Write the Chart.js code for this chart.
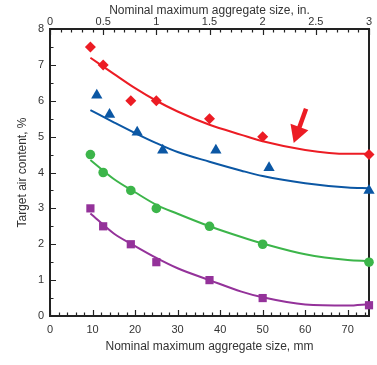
<!DOCTYPE html>
<html>
<head>
<meta charset="utf-8">
<script src="https://cdn.jsdelivr.net/npm/chart.js@4/dist/chart.umd.min.js"></script>
<style>
  html, body { margin: 0; padding: 0; background: #fff; }
  #wrap { width: 377px; height: 365px; position: relative; }
</style>
</head>
<body>
<div id="wrap"><canvas id="c" width="377" height="365"></canvas></div>
<script>
// aggregate sizes, mm
const sizesMm = [9.5, 12.5, 19, 25, 37.5, 50, 75]
const blueSizesMm = [11, 14, 20.5, 26.5, 39, 51.5, 75]

// measured target air content, %
const redPts = [7.5, 7.0, 6.0, 6.0, 5.5, 5.0, 4.5]
const bluePts = [6.15, 5.62, 5.12, 4.62, 4.62, 4.13, 3.5]
const greenPts = [4.5, 4.0, 3.5, 3.0, 2.5, 2.0, 1.5]
const purplePts = [3.0, 2.5, 2.0, 1.5, 1.0, 0.5, 0.3]

// fitted curves
const fitX = [9.5, 15, 20, 25, 30, 37.5, 45, 50, 60, 70, 75]
const redFit = [7.2, 6.75, 6.35, 6.0, 5.7, 5.33, 5.05, 4.87, 4.63, 4.52, 4.52]
const blueFit = [5.74, 5.4, 5.1, 4.82, 4.57, 4.3, 4.05, 3.9, 3.7, 3.58, 3.56]
const greenFit = [4.35, 3.82, 3.45, 3.1, 2.85, 2.5, 2.2, 2.02, 1.72, 1.56, 1.53]
const purpleFit = [2.86, 2.3, 1.95, 1.62, 1.33, 1.0, 0.68, 0.52, 0.32, 0.29, 0.33]

// tick labels
const mmTicks = [0, 10, 20, 30, 40, 50, 60, 70]
const inTicks = [0, 0.5, 1, 1.5, 2, 2.5, 3]
const yTicks = [0, 1, 2, 3, 4, 5, 6, 7, 8]

// arrow annotation (tail, tip) in data units
const arrowTail = [60.2, 5.78]
const arrowTip = [57.3, 4.82]

const RED = '#ec1c24'
const BLUE = '#0b57a4'
const GREEN = '#3cb54a'
const PURPLE = '#94329a'
const FONT = "'Liberation Sans', Arial, sans-serif"

function xy(xs, ys) {
  return xs.map((x, i) => ({ x: x, y: ys[i] }))
}

function markers(xs, ys, color, style, r) {
  return {
    data: xy(xs, ys),
    showLine: false,
    pointStyle: style,
    pointRadius: r,
    pointHoverRadius: r,
    pointBackgroundColor: color,
    pointBorderColor: color,
    pointBorderWidth: 0,
    clip: false
  }
}

function curve(ys, color) {
  return {
    data: xy(fitX, ys),
    showLine: true,
    borderColor: color,
    borderWidth: 2,
    pointRadius: 0,
    cubicInterpolationMode: 'monotone',
    fill: false
  }
}

// frame, inward tick marks and arrow
const framePlugin = {
  id: 'frame',
  beforeDatasetsDraw(chart) {
    const ctx = chart.ctx
    const a = chart.chartArea
    const sx = chart.scales.x
    const sx2 = chart.scales.x2
    const sy = chart.scales.y
    ctx.save()
    ctx.strokeStyle = '#222'
    ctx.lineWidth = 1.2
    ctx.beginPath()
    // bottom ticks every 2 mm
    for (let v = 0; v <= 75; v += 2) {
      const px = Math.round(sx.getPixelForValue(v)) + 0.5
      const len = v % 10 === 0 ? 6 : 3.5
      ctx.moveTo(px, a.bottom)
      ctx.lineTo(px, a.bottom - len)
    }
    // top ticks every 0.1 in
    for (let i = 0; i <= 30; i++) {
      const px = Math.round(sx2.getPixelForValue(i / 10)) + 0.5
      const len = i % 5 === 0 ? 6 : 3.5
      ctx.moveTo(px, a.top)
      ctx.lineTo(px, a.top + len)
    }
    // left ticks every 0.5 %
    for (let i = 0; i <= 16; i++) {
      const py = Math.round(sy.getPixelForValue(i / 2)) + 0.5
      const len = i % 2 === 0 ? 6 : 3.5
      ctx.moveTo(a.left, py)
      ctx.lineTo(a.left + len, py)
    }
    ctx.stroke()
    ctx.lineWidth = 2
    ctx.strokeRect(a.left, a.top, a.right - a.left, a.bottom - a.top)
    ctx.restore()
  },
  afterDatasetsDraw(chart) {
    const ctx = chart.ctx
    const sx = chart.scales.x
    const sy = chart.scales.y
    const x0 = sx.getPixelForValue(arrowTail[0])
    const y0 = sy.getPixelForValue(arrowTail[1])
    const x1 = sx.getPixelForValue(arrowTip[0])
    const y1 = sy.getPixelForValue(arrowTip[1])
    const ang = Math.atan2(y1 - y0, x1 - x0)
    const headLen = 17
    const headW = 9.5
    const bx = x1 - Math.cos(ang) * headLen
    const by = y1 - Math.sin(ang) * headLen
    ctx.save()
    ctx.strokeStyle = RED
    ctx.fillStyle = RED
    ctx.lineWidth = 4.5
    ctx.beginPath()
    ctx.moveTo(x0, y0)
    ctx.lineTo(bx + Math.cos(ang) * 2, by + Math.sin(ang) * 2)
    ctx.stroke()
    ctx.beginPath()
    ctx.moveTo(x1, y1)
    ctx.lineTo(bx + Math.sin(ang) * headW, by - Math.cos(ang) * headW)
    ctx.lineTo(bx - Math.sin(ang) * headW, by + Math.cos(ang) * headW)
    ctx.closePath()
    ctx.fill()
    ctx.restore()
  }
}

const tickFont = { family: FONT, size: 11 }
const titleFont = { family: FONT, size: 12 }

new Chart(document.getElementById('c').getContext('2d'), {
  type: 'scatter',
  data: {
    datasets: [
      markers(sizesMm, redPts, RED, 'rectRot', 5.5),
      markers(blueSizesMm, bluePts, BLUE, 'triangle', 6.5),
      markers(sizesMm, greenPts, GREEN, 'circle', 4.8),
      markers(sizesMm, purplePts, PURPLE, 'rect', 5.8),
      curve(redFit, RED),
      curve(blueFit, BLUE),
      curve(greenFit, GREEN),
      curve(purpleFit, PURPLE)
    ]
  },
  options: {
    responsive: false,
    animation: false,
    events: [],
    layout: { padding: { top: 3, right: 8, bottom: 11, left: 15 } },
    plugins: {
      legend: { display: false },
      tooltip: { enabled: false }
    },
    scales: {
      x: {
        type: 'linear',
        position: 'bottom',
        min: 0,
        max: 75,
        afterBuildTicks: s => { s.ticks = mmTicks.map(v => ({ value: v })) },
        afterFit: s => { s.height = 38 },
        grid: { display: false, drawTicks: false },
        border: { display: false },
        ticks: { font: tickFont, color: '#333', padding: 7, maxRotation: 0, callback: v => String(v) },
        title: {
          display: true,
          text: 'Nominal maximum aggregate size, mm',
          font: titleFont,
          color: '#333',
          padding: { top: 2, bottom: 0 }
        }
      },
      x2: {
        type: 'linear',
        position: 'top',
        min: 0,
        max: 3,
        afterBuildTicks: s => { s.ticks = inTicks.map(v => ({ value: v })) },
        afterFit: s => { s.height = 26 },
        grid: { display: false, drawTicks: false },
        border: { display: false },
        ticks: { font: tickFont, color: '#333', padding: 0, maxRotation: 0, callback: v => String(v) },
        title: {
          display: true,
          text: 'Nominal maximum aggregate size, in.',
          font: titleFont,
          color: '#333',
          padding: { top: 0, bottom: 0 }
        }
      },
      y: {
        type: 'linear',
        min: 0,
        max: 8,
        afterBuildTicks: s => { s.ticks = yTicks.map(v => ({ value: v })) },
        afterFit: s => { s.width = 35 },
        grid: { display: false, drawTicks: false },
        border: { display: false },
        ticks: { font: tickFont, color: '#333', padding: 6, callback: v => String(v) },
        title: {
          display: true,
          text: 'Target air content, %',
          font: titleFont,
          color: '#333',
          padding: { top: 0, bottom: 0 }
        }
      }
    }
  },
  plugins: [framePlugin]
})
</script>
</body>
</html>
